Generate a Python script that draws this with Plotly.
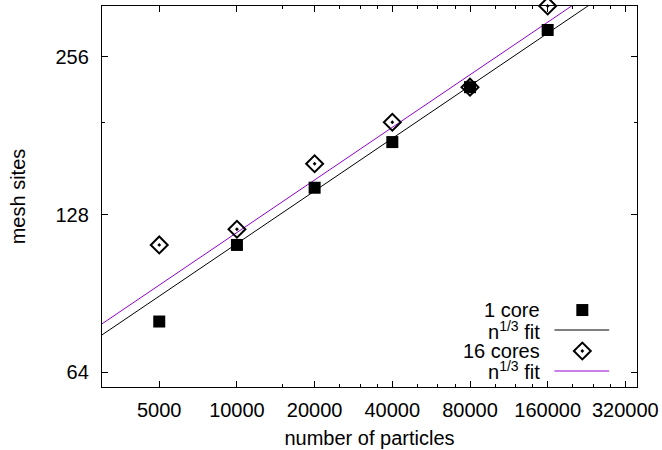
import numpy as np
import plotly.graph_objects as go

# ---- data ----
particles = [5000, 10000, 20000, 40000, 80000, 160000]
sites_1core = [80, 112, 144, 176, 224, 288]
sites_16cores = [112, 120, 160, 192, 224, 320]
# fit coefficients: sites = a * n^(1/3)
fit_a_1core = 5.23
fit_a_16cores = 5.49
fit_exponent = 1.0 / 3.0

x_ticks = [5000, 10000, 20000, 40000, 80000, 160000, 320000]
x_minor = [15000, 25000, 30000, 35000, 50000, 60000, 70000,
           100000, 120000, 140000, 200000, 240000, 280000]
y_ticks = [64, 128, 256]
y_minor = [192]
x_range = [3000, 355000]
y_range = [60, 320]

FONT = "Liberation Sans, Arial, Helvetica, sans-serif"
FS = 20
PURPLE = "#9400D3"

fit_x = np.array(x_range, dtype=float)

fig = go.Figure()

fig.add_trace(go.Scatter(
    x=fit_x, y=fit_a_1core * fit_x ** fit_exponent, mode="lines",
    line=dict(color="black", width=1), showlegend=False, hoverinfo="skip"))
fig.add_trace(go.Scatter(
    x=fit_x, y=fit_a_16cores * fit_x ** fit_exponent, mode="lines",
    line=dict(color=PURPLE, width=1), showlegend=False, hoverinfo="skip"))
fig.add_trace(go.Scatter(
    x=particles, y=sites_1core, mode="markers",
    marker=dict(symbol="square", size=12, color="black", line=dict(width=0)),
    showlegend=False, cliponaxis=False))
fig.add_trace(go.Scatter(
    x=particles, y=sites_16cores, mode="markers",
    marker=dict(symbol="diamond-open-dot", size=13, color="black",
                line=dict(width=2, color="black")),
    showlegend=False, cliponaxis=False))

# ---- custom gnuplot-style key (text left, sample right) ----
key_labels = ["1 core", "n<sup>1/3</sup> fit", "16 cores", "n<sup>1/3</sup> fit"]
key_rows_y = [0.202, 0.1496, 0.0945, 0.042]
text_x = 0.8216
samp_x0, samp_x1, samp_xc = 0.8457, 0.948, 0.8978

fig.add_trace(go.Scatter(
    x=[samp_xc], y=[key_rows_y[0]], xaxis="x2", yaxis="y2", mode="markers",
    marker=dict(symbol="square", size=12, color="black"),
    showlegend=False, hoverinfo="skip", cliponaxis=False))
fig.add_trace(go.Scatter(
    x=[samp_x0, samp_x1], y=[key_rows_y[1]] * 2, xaxis="x2", yaxis="y2", mode="lines",
    line=dict(color="black", width=1), showlegend=False, hoverinfo="skip"))
fig.add_trace(go.Scatter(
    x=[samp_xc], y=[key_rows_y[2]], xaxis="x2", yaxis="y2", mode="markers",
    marker=dict(symbol="diamond-open-dot", size=13, color="black",
                line=dict(width=2, color="black")),
    showlegend=False, hoverinfo="skip", cliponaxis=False))
fig.add_trace(go.Scatter(
    x=[samp_x0, samp_x1], y=[key_rows_y[3]] * 2, xaxis="x2", yaxis="y2", mode="lines",
    line=dict(color=PURPLE, width=1), showlegend=False, hoverinfo="skip"))

annotations = []
for lab, yy in zip(key_labels, key_rows_y):
    annotations.append(dict(
        x=text_x, y=yy, xref="paper", yref="paper", text=lab, showarrow=False,
        xanchor="right", yanchor="middle", font=dict(family=FONT, size=FS, color="black")))

axis_common = dict(
    showline=True, linecolor="black", linewidth=1.3, mirror="ticks",
    ticks="inside", ticklen=6, tickwidth=1, tickcolor="black",
    showgrid=False, zeroline=False, automargin=False,
    tickfont=dict(family=FONT, size=FS, color="black"),
)

fig.update_layout(
    width=662, height=450,
    margin=dict(l=102, r=25, t=6, b=63),
    paper_bgcolor="white", plot_bgcolor="white",
    font=dict(family=FONT, size=FS, color="black"),
    showlegend=False,
    annotations=annotations,
    xaxis=dict(
        type="log", range=[np.log10(x_range[0]), np.log10(x_range[1])],
        tickvals=x_ticks, ticktext=[str(v) for v in x_ticks],
        minor=dict(tickvals=x_minor, ticks="inside", ticklen=3, tickcolor="black", showgrid=False),
        title=dict(text="number of particles", font=dict(family=FONT, size=FS), standoff=10),
        ticklabelstandoff=5,
        **axis_common),
    yaxis=dict(
        type="log", range=[np.log10(y_range[0]), np.log10(y_range[1])],
        tickvals=y_ticks, ticktext=[str(v) for v in y_ticks],
        minor=dict(tickvals=y_minor, ticks="inside", ticklen=3, tickcolor="black", showgrid=False),
        title=dict(text="mesh sites", font=dict(family=FONT, size=FS), standoff=24),
        ticklabelstandoff=8,
        **axis_common),
    xaxis2=dict(overlaying="x", range=[0, 1], visible=False, showgrid=False),
    yaxis2=dict(overlaying="y", range=[0, 1], visible=False, showgrid=False),
)

fig.write_html("out.html",
               config={"displayModeBar": False},
               post_script="document.body.style.margin='0';document.body.style.overflow='hidden';")
